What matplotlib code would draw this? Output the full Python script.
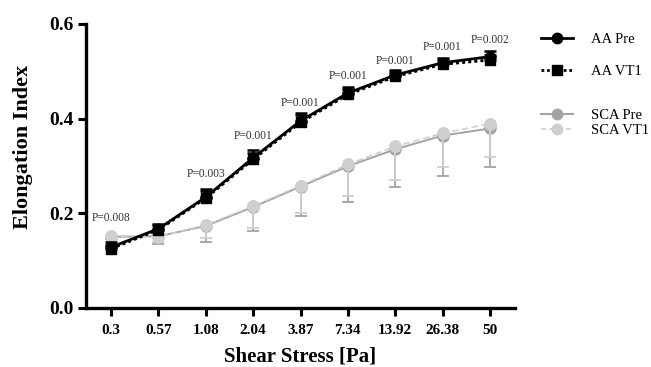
import matplotlib
matplotlib.use("Agg")
import matplotlib.pyplot as plt
from matplotlib.lines import Line2D
import numpy as np

categories = ["0.3", "0.57", "1.08", "2.04", "3.87", "7.34", "13.92", "26.38", "50"]

aa_pre = [0.128, 0.167, 0.234, 0.317, 0.395, 0.454, 0.492, 0.518, 0.531]
aa_vt1 = [0.125, 0.165, 0.232, 0.314, 0.392, 0.451, 0.489, 0.515, 0.524]
aa_pre_err = [0.010, 0.011, 0.017, 0.016, 0.017, 0.013, 0.010, 0.010, 0.011]
aa_vt1_err = [0.008, 0.010, 0.014, 0.014, 0.015, 0.012, 0.009, 0.008, 0.010]

sca_pre = [0.150, 0.151, 0.173, 0.213, 0.256, 0.299, 0.335, 0.364, 0.379]
sca_vt1 = [0.152, 0.150, 0.175, 0.215, 0.258, 0.303, 0.341, 0.369, 0.389]
sca_pre_err = [0.005, 0.016, 0.033, 0.051, 0.063, 0.075, 0.079, 0.085, 0.081]
sca_vt1_err = [0.005, 0.012, 0.028, 0.047, 0.058, 0.067, 0.071, 0.072, 0.071]

p_labels = ["P=0.008", "", "P=0.003", "P=0.001", "P=0.001", "P=0.001", "P=0.001", "P=0.001", "P=0.002"]
p_label_y = [0.190, 0, 0.282, 0.363, 0.432, 0.489, 0.522, 0.552, 0.566]

plt.rcParams['font.family'] = ['Liberation Serif', 'DejaVu Serif']

W, H = 651, 367
fig = plt.figure(figsize=(W / 100, H / 100), dpi=100)
ax = fig.add_axes([86 / W, 1 - 307.7 / H, (515 - 86) / W, (307.7 - 24) / H])

x = np.arange(len(categories))
n = len(x)
zeros = [0] * n

c_sca_pre = "#a3a3a3"
c_sca_vt1 = "#cfcfcf"

# SCA series
ax.errorbar(x, sca_vt1, yerr=[sca_vt1_err, zeros], color=c_sca_vt1, ecolor=c_sca_vt1,
            elinewidth=1.3, capsize=4, capthick=1.3, linestyle=(0, (4, 2)), linewidth=1.2,
            marker='o', markersize=8, zorder=3)
ax.errorbar(x, sca_pre, yerr=[sca_pre_err, zeros], color=c_sca_pre, ecolor=c_sca_pre,
            elinewidth=1.3, capsize=4, capthick=1.3, linestyle='-', linewidth=1.4,
            marker='o', markersize=8, zorder=2)
ax.plot(x, sca_vt1, linestyle='none', marker='o', markersize=8, color=c_sca_vt1, zorder=4)

# AA series
ax.errorbar(x, aa_pre, yerr=[zeros, aa_pre_err], color='black', ecolor='black',
            elinewidth=1.8, capsize=4.5, capthick=1.8, linestyle='-', linewidth=2.0,
            marker='o', markersize=7.5, zorder=5)
ax.errorbar(x, aa_vt1, yerr=[zeros, aa_vt1_err], color='black', ecolor='black',
            elinewidth=1.8, capsize=4.5, capthick=1.8, linestyle=(0, (1, 1)), linewidth=2.2,
            marker='s', markersize=7.5, zorder=6)

for xi, lab, yy in zip(x, p_labels, p_label_y):
    if lab:
        ax.text(xi, yy, lab, ha='center', va='center', fontsize=8.3, color='#333333')

ax.set_xlim(-0.53, 8.53)
ax.set_ylim(0, 0.6)
ax.set_xticks(x)
ax.set_xticklabels(categories, fontsize=11, fontweight='bold')
ax.set_yticks([0.0, 0.2, 0.4, 0.6])
ax.set_yticklabels(["0.0", "0.2", "0.4", "0.6"], fontsize=14, fontweight='bold')
ax.tick_params(axis='both', direction='out', width=2.2, length=6, pad=3)
ax.tick_params(axis='x', pad=6)
for s in ['top', 'right']:
    ax.spines[s].set_visible(False)
for s in ['left', 'bottom']:
    ax.spines[s].set_linewidth(2.4)

fig.text(23 / W, 1 - 147 / H, "Elongation Index", rotation=90, ha='center', va='center',
         fontsize=16, fontweight='bold')
fig.text(300 / W, 1 - 357 / H, "Shear Stress [Pa]", ha='center', va='center',
         fontsize=15, fontweight='bold')

h1 = [Line2D([], [], color='black', linestyle='-', linewidth=2, marker='o', markersize=7.5),
      Line2D([], [], color='black', linestyle=(0, (1, 1)), linewidth=2, marker='s', markersize=7.5)]
h2 = [Line2D([], [], color=c_sca_pre, linestyle='-', linewidth=1.5, marker='o', markersize=7.5),
      Line2D([], [], color=c_sca_vt1, linestyle=(0, (3, 2)), linewidth=1.2, marker='o', markersize=7.5)]
leg1 = fig.legend(h1, ["AA Pre", "AA VT1"], loc='upper left', bbox_to_anchor=(541 / W, 1 - 33 / H),
                  frameon=False, fontsize=10.5, handlelength=2.2, handletextpad=1.2,
                  labelspacing=1.25, borderpad=0, borderaxespad=0)
leg2 = fig.legend(h2, ["SCA Pre", "SCA VT1"], loc='upper left', bbox_to_anchor=(541 / W, 1 - 109 / H),
                  frameon=False, fontsize=10.5, handlelength=2.2, handletextpad=1.2,
                  labelspacing=0.1, borderpad=0, borderaxespad=0)

fig.savefig("out.png", dpi=100)
